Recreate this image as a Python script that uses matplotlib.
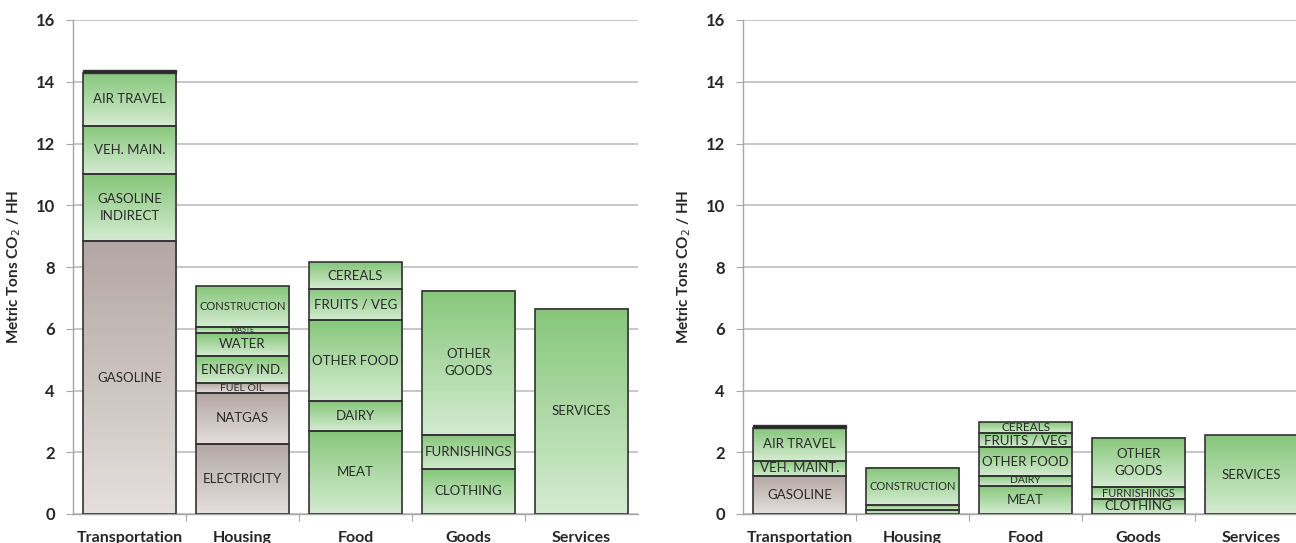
import numpy as np
import matplotlib
matplotlib.use('Agg')
from matplotlib import pyplot as plt
from matplotlib.colors import LinearSegmentedColormap

plt.rcParams['font.family'] = ['Lato', 'DejaVu Sans']

categories = ['Transportation', 'Housing', 'Food', 'Goods', 'Services']

# left panel: segment heights (bottom to top), labels, kinds (b=brown, g=green, k=dark cap)
left_trans_vals = [8.84, 2.17, 1.56, 1.72, 0.09]
left_trans_labels = ['GASOLINE', 'GASOLINE\nINDIRECT', 'VEH. MAIN.', 'AIR TRAVEL', '']
left_trans_kinds = ['b', 'g', 'g', 'g', 'k']

left_house_vals = [2.27, 1.65, 0.32, 0.88, 0.74, 0.20, 1.32]
left_house_labels = ['ELECTRICITY', 'NATGAS', 'FUEL OIL', 'ENERGY IND.', 'WATER', 'WASTE', 'CONSTRUCTION']
left_house_kinds = ['b', 'b', 'b', 'g', 'g', 'g', 'g']

left_food_vals = [2.69, 0.97, 2.62, 1.01, 0.86]
left_food_labels = ['MEAT', 'DAIRY', 'OTHER FOOD', 'FRUITS / VEG', 'CEREALS']
left_food_kinds = ['g', 'g', 'g', 'g', 'g']

left_goods_vals = [1.46, 1.10, 4.67]
left_goods_labels = ['CLOTHING', 'FURNISHINGS', 'OTHER\nGOODS']
left_goods_kinds = ['g', 'g', 'g']

left_serv_vals = [6.64]
left_serv_labels = ['SERVICES']
left_serv_kinds = ['g']

# right panel
right_trans_vals = [1.24, 0.49, 1.06, 0.09]
right_trans_labels = ['GASOLINE', 'VEH. MAINT.', 'AIR TRAVEL', '']
right_trans_kinds = ['b', 'g', 'g', 'k']

right_house_vals = [0.13, 0.15, 1.20]
right_house_labels = ['', '', 'CONSTRUCTION']
right_house_kinds = ['g', 'g', 'g']

right_food_vals = [0.91, 0.33, 0.92, 0.47, 0.34]
right_food_labels = ['MEAT', 'DAIRY', 'OTHER FOOD', 'FRUITS / VEG', 'CEREALS']
right_food_kinds = ['g', 'g', 'g', 'g', 'g']

right_goods_vals = [0.49, 0.37, 1.59]
right_goods_labels = ['CLOTHING', 'FURNISHINGS', 'OTHER\nGOODS']
right_goods_kinds = ['g', 'g', 'g']

right_serv_vals = [2.55]
right_serv_labels = ['SERVICES']
right_serv_kinds = ['g']

yticks = [0, 2, 4, 6, 8, 10, 12, 14, 16]

# font sizes for labels that are squeezed into thin or narrow segments
left_sizes = {'WASTE': 5, 'FUEL OIL': 7.5, 'CONSTRUCTION': 8}
right_sizes = {'CONSTRUCTION': 8, 'CEREALS': 8.5, 'DAIRY': 7.5, 'FURNISHINGS': 8}

green = LinearSegmentedColormap.from_list('g', ['#d4ebd1', '#86c77a'])
brown = LinearSegmentedColormap.from_list('b', ['#e5dfdd', '#b3a7a4'])
grad = np.linspace(0, 1, 100).reshape(-1, 1)


def draw_panel(ax, stacks, sizes):
    width = 0.83
    for i, (vals, labels, kinds) in enumerate(stacks):
        bottom = 0
        for v, lab, k in zip(vals, labels, kinds):
            x0 = i - width / 2
            if k == 'k':
                ax.bar(i, v, width, bottom=bottom, color='#262626',
                       edgecolor='#333333', linewidth=1.0, zorder=3)
            else:
                cmap = green if k == 'g' else brown
                ax.imshow(grad, cmap=cmap, origin='lower', aspect='auto',
                          extent=(x0, x0 + width, bottom, bottom + v), zorder=2)
                ax.bar(i, v, width, bottom=bottom, facecolor='none',
                       edgecolor='#333333', linewidth=1.2, zorder=3)
            if lab:
                ax.text(i, bottom + v / 2, lab, ha='center', va='center',
                        fontsize=sizes.get(lab, 9.5), color='#2b2b2b', zorder=4,
                        linespacing=1.5)
            bottom += v
    ax.set_xlim(-0.5, 4.5)
    ax.set_ylim(0, 16)
    ax.set_yticks(yticks)
    ax.set_yticklabels([str(t) for t in yticks], fontweight='bold', fontsize=12,
                       color='#262626')
    ax.set_xticks([0.5, 1.5, 2.5, 3.5], minor=False)
    ax.set_xticks(range(5), minor=True)
    ax.set_xticklabels([])
    ax.set_xticklabels(categories, minor=True, fontweight='bold', fontsize=11.5,
                       color='#262626')
    ax.tick_params(axis='x', which='minor', length=0, pad=12.5)
    ax.tick_params(axis='x', which='major', length=5, color='#a6a6a6', direction='out')
    ax.tick_params(axis='y', length=5, color='#a6a6a6', pad=8)
    ax.grid(axis='y', color='#bdbdbd', linewidth=1.2, zorder=0)
    ax.set_axisbelow(True)
    for s in ['top', 'right']:
        ax.spines[s].set_visible(False)
    for s in ['left', 'bottom']:
        ax.spines[s].set_color('#a6a6a6')
        ax.spines[s].set_linewidth(1.0)
    ax.set_ylabel('Metric Tons CO$_2$ / HH', fontweight='bold', fontsize=11,
                  color='#262626', labelpad=9)


fig = plt.figure(figsize=(12.96, 5.43), dpi=100)
ax1 = fig.add_axes([73 / 1296, 29 / 543, 565 / 1296, 494 / 543])
ax2 = fig.add_axes([743 / 1296, 29 / 543, 565 / 1296, 494 / 543])

draw_panel(ax1, [
    (left_trans_vals, left_trans_labels, left_trans_kinds),
    (left_house_vals, left_house_labels, left_house_kinds),
    (left_food_vals, left_food_labels, left_food_kinds),
    (left_goods_vals, left_goods_labels, left_goods_kinds),
    (left_serv_vals, left_serv_labels, left_serv_kinds),
], left_sizes)
draw_panel(ax2, [
    (right_trans_vals, right_trans_labels, right_trans_kinds),
    (right_house_vals, right_house_labels, right_house_kinds),
    (right_food_vals, right_food_labels, right_food_kinds),
    (right_goods_vals, right_goods_labels, right_goods_kinds),
    (right_serv_vals, right_serv_labels, right_serv_kinds),
], right_sizes)

fig.savefig('out.png', dpi=100)
